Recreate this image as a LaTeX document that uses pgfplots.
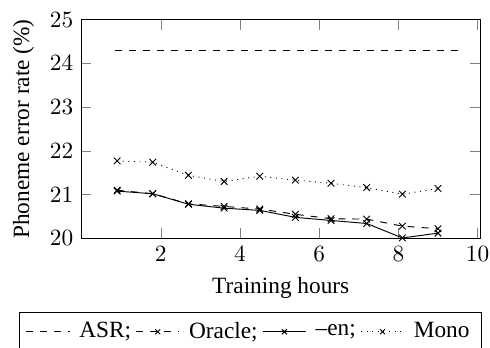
\documentclass[border=0pt]{standalone}
\usepackage{fontspec}
\setmainfont{Liberation Serif}
\usepackage{pgfplots}
\pgfplotsset{compat=1.18}
\begin{document}
\begin{tikzpicture}
\useasboundingbox (-34.98pt,-46.65pt) rectangle (175.3pt,102.3pt);
\begin{axis}[
  scale only axis,
  width=171.0pt, height=93.9pt,
  xmin=0, xmax=10.06, ymin=20, ymax=25,
  xtick={2,4,6,8,10}, ytick={20,21,22,23,24,25},
  xlabel={Training hours},
  ylabel={Phoneme error rate (\%)},
  legend style={at={(0.423,-0.337)}, anchor=north, legend columns=-1, draw=black,
    /tikz/every odd column/.append style={column sep=2pt}},
  legend image code/.code={\draw[mark repeat=2,mark phase=2,#1] plot coordinates {(0cm,0cm) (0.325cm,0cm) (0.65cm,0cm)};},
  legend image post style={mark size=1.5pt},
]
\addplot[black, dashed] coordinates {(0.85,24.3) (9.5,24.3)};
\addlegendentry{ASR;}
\addplot[black, dashed, mark=x, mark options={solid}] coordinates {
(0.9,21.10) (1.8,21.02) (2.7,20.79) (3.6,20.73) (4.5,20.67) (5.4,20.55) (6.3,20.45) (7.2,20.44) (8.1,20.28) (9.0,20.22)};
\addlegendentry{Oracle;}
\addplot[black, mark=x] coordinates {
(0.9,21.08) (1.8,21.02) (2.7,20.78) (3.6,20.69) (4.5,20.64) (5.4,20.48) (6.3,20.41) (7.2,20.34) (8.1,20.01) (9.0,20.12)};
\addlegendentry{--en;}
\addplot[black, dotted, mark=x, mark options={solid}] coordinates {
(0.9,21.77) (1.8,21.74) (2.7,21.44) (3.6,21.30) (4.5,21.42) (5.4,21.33) (6.3,21.26) (7.2,21.16) (8.1,21.01) (9.0,21.14)};
\addlegendentry{Mono}
\end{axis}
\end{tikzpicture}
\end{document}
